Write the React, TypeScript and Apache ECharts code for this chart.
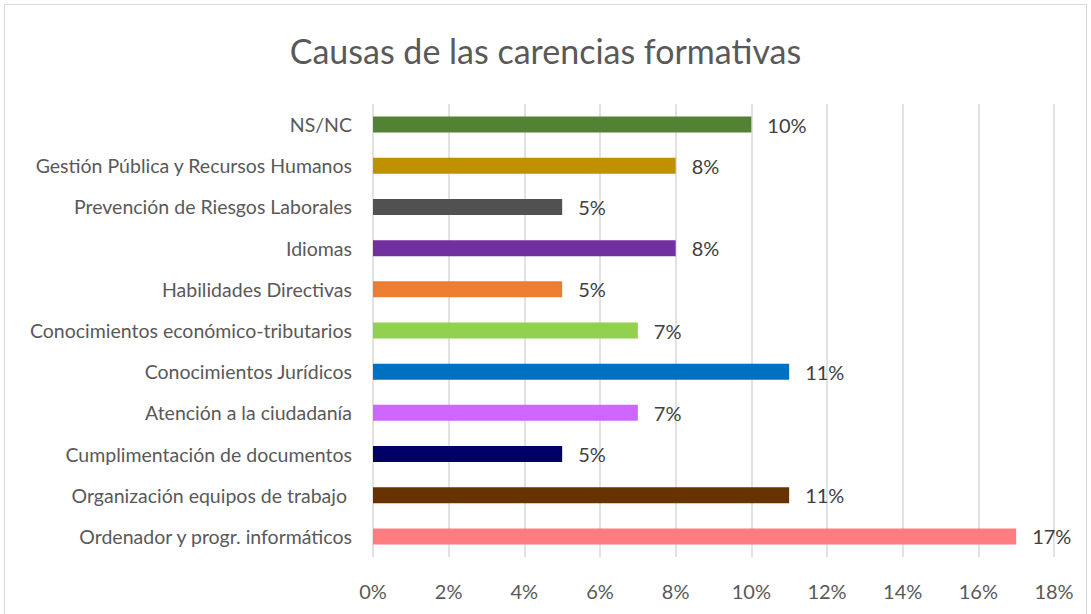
import React, { useEffect, useRef } from "react";
import * as echarts from "echarts";

const categories = [
  "Ordenador y progr. informáticos",
  "Organización equipos de trabajo ",
  "Cumplimentación de documentos",
  "Atención a la ciudadanía",
  "Conocimientos Jurídicos",
  "Conocimientos económico-tributarios",
  "Habilidades Directivas",
  "Idiomas",
  "Prevención de Riesgos Laborales",
  "Gestión Pública y Recursos Humanos",
  "NS/NC",
];
const values = [17, 11, 5, 7, 11, 7, 5, 8, 5, 8, 10];
const colors = [
  "#FF7C80",
  "#663300",
  "#000066",
  "#CC66FF",
  "#0070C0",
  "#92D050",
  "#ED7D31",
  "#7030A0",
  "#515151",
  "#BF9000",
  "#548235",
];
const title = "Causas de las carencias formativas";

export default function App() {
  const ref = useRef<HTMLDivElement>(null);
  useEffect(() => {
    const chart = echarts.init(ref.current!, undefined, { renderer: "svg" });
    const font = "Lato, 'Open Sans', sans-serif";
    chart.setOption({
      animation: false,
      backgroundColor: "#ffffff",
      textStyle: { fontFamily: font },
      title: {
        text: title,
        left: "center",
        top: 28,
        textStyle: { fontFamily: font, fontSize: 34, fontWeight: "normal", color: "#595959" },
      },
      graphic: [
        {
          type: "rect",
          shape: { x: 4.5, y: 4.5, width: 1082, height: 640 },
          style: { fill: "none", stroke: "#d9d9d9", lineWidth: 1 },
          silent: true,
        },
      ],
      grid: { left: 373, right: 37, top: 104, bottom: 57, containLabel: false },
      xAxis: {
        type: "value",
        min: 0,
        max: 18,
        interval: 2,
        axisLine: { show: false },
        axisTick: { show: false },
        splitLine: { show: true, lineStyle: { color: "#d9d9d9", width: 1.5 } },
        axisLabel: {
          formatter: (v: number) => `${v}%`,
          color: "#595959",
          fontSize: 20,
          margin: 24,
          fontFamily: font,
        },
      },
      yAxis: {
        type: "category",
        data: categories,
        axisLine: { show: false },
        axisTick: { show: false },
        axisLabel: { color: "#595959", fontSize: 19.5, margin: 21, fontFamily: font },
      },
      series: [
        {
          type: "bar",
          data: values.map((v, i) => ({ value: v, itemStyle: { color: colors[i] } })),
          barWidth: 16,
          label: {
            show: true,
            position: "right",
            distance: 16,
            formatter: (p: any) => `${p.value}%`,
            color: "#404040",
            fontSize: 20,
            fontFamily: font,
          },
        },
      ],
    });
    return () => chart.dispose();
  }, []);
  return (
    <div
      ref={ref}
      style={{ position: "absolute", left: 0, top: 0, width: 1091, height: 614 }}
    />
  );
}
